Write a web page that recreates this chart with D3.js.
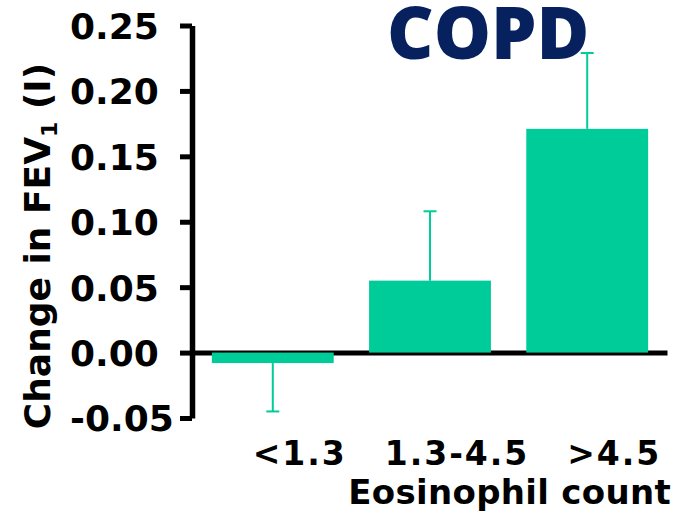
<html>
<head>
<meta charset="utf-8">
<title>COPD - change in FEV1 by eosinophil count</title>
<script src="https://cdn.jsdelivr.net/npm/d3@7"></script>
<style>
  body { margin: 0; background: #fff; }
  svg { display: block; }
  text { font-family: "DejaVu Sans", Verdana, sans-serif; font-weight: bold; fill: #000; }
</style>
</head>
<body>
<div id="chart"></div>
<script>
const width = 682, height = 516;

// data
const categories = ["<1.3", "1.3-4.5", ">4.5"];
const changes = [-0.008, 0.055, 0.171];
const errorEnds = [-0.045, 0.108, 0.229];
const yTicks = [-0.05, 0.00, 0.05, 0.10, 0.15, 0.20, 0.25];

const barColor = "#00cc99";

const svg = d3.select("#chart").append("svg")
  .attr("width", width)
  .attr("height", height);

const y = d3.scaleLinear()
  .domain([-0.05, 0.25])
  .range([418, 25.5]);

const x = d3.scaleBand()
  .domain(categories)
  .range([193, 667])
  .paddingInner(0.225)
  .paddingOuter(0.12);

// zero line (drawn under the bars)
svg.append("g")
  .attr("transform", "translate(0," + y(0) + ")")
  .call(d3.axisBottom(x).tickSize(0).tickFormat("").tickSizeOuter(0))
  .call(g => g.select(".domain").attr("stroke", "#000").attr("stroke-width", 5));

// bars
svg.append("g").selectAll("rect")
  .data(categories)
  .join("rect")
  .attr("x", d => x(d))
  .attr("width", x.bandwidth())
  .attr("y", (d, i) => y(Math.max(0, changes[i])))
  .attr("height", (d, i) => Math.abs(y(changes[i]) - y(0)))
  .attr("fill", barColor);

// error bars
const err = svg.append("g").attr("stroke", barColor).attr("stroke-width", 2);
categories.forEach((c, i) => {
  const cx = x(c) + x.bandwidth() / 2;
  err.append("line")
    .attr("x1", cx).attr("x2", cx)
    .attr("y1", y(changes[i])).attr("y2", y(errorEnds[i]));
  err.append("line")
    .attr("x1", cx - 6.5).attr("x2", cx + 6.5)
    .attr("y1", y(errorEnds[i])).attr("y2", y(errorEnds[i]));
});

// y axis
const yAxis = svg.append("g")
  .attr("transform", "translate(192,0)")
  .call(d3.axisLeft(y).tickValues(yTicks).tickFormat(d => d.toFixed(2)).tickSize(12).tickSizeOuter(0));
yAxis.select(".domain").attr("stroke", "#000").attr("stroke-width", 5.5);
yAxis.selectAll(".tick line").attr("stroke", "#000").attr("stroke-width", 5);
yAxis.selectAll(".tick text")
  .attr("x", -122)
  .attr("dy", "0.36em")
  .attr("text-anchor", "start")
  .style("font-size", "36px")
  .style("font-family", "'DejaVu Sans', Verdana, sans-serif")
  .style("font-weight", "bold")
  .attr("fill", "#000");

// category labels
svg.append("g").selectAll("text")
  .data(categories)
  .join("text")
  .attr("x", d => x(d) + x.bandwidth() / 2 + 27)
  .attr("y", 465)
  .attr("text-anchor", "middle")
  .attr("letter-spacing", 2)
  .style("font-size", "33px")
  .text(d => d);

// x axis title
svg.append("text")
  .attr("x", 671)
  .attr("y", 504)
  .attr("text-anchor", "end")
  .attr("letter-spacing", 0.3)
  .style("font-size", "34px")
  .text("Eosinophil count");

// y axis title
const yTitle = svg.append("text")
  .attr("transform", "translate(50,246) rotate(-90)")
  .attr("text-anchor", "middle")
  .style("font-size", "36px");
yTitle.append("tspan").text("Change in FEV");
yTitle.append("tspan").attr("dy", 7).style("font-size", "22px").text("1");
yTitle.append("tspan").attr("dy", -7).text(" (I)");

// panel title
svg.append("text")
  .attr("x", 387)
  .attr("y", 59)
  .style("font-family", "'Open Sans', sans-serif")
  .style("font-weight", 800)
  .style("font-size", "72px")
  .style("fill", "#07215e")
  .text("COPD");
</script>
</body>
</html>
